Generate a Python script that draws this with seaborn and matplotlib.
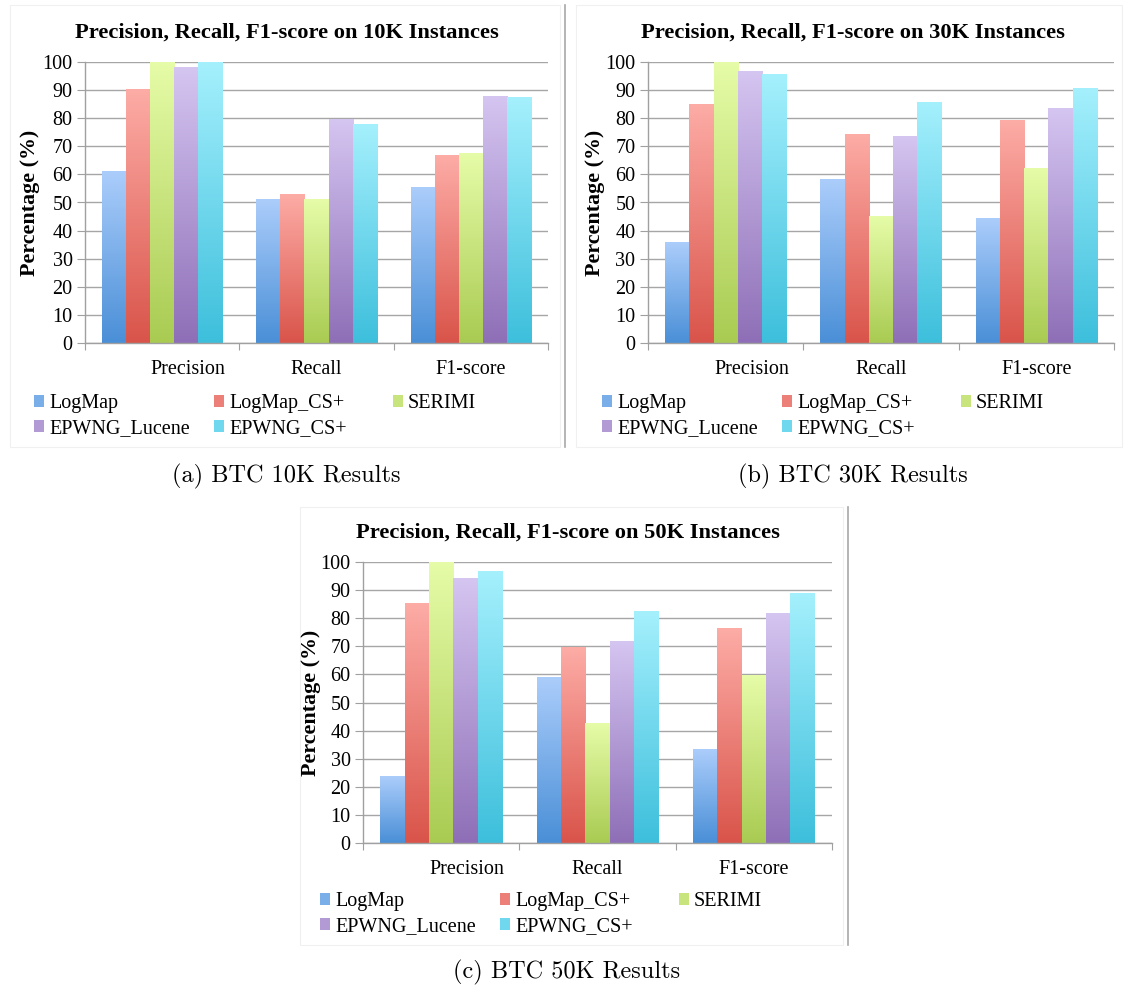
import numpy as np
import pandas as pd
import matplotlib
matplotlib.use('Agg')
import matplotlib.pyplot as plt
import seaborn as sns
from matplotlib.colors import LinearSegmentedColormap
from matplotlib.patches import Patch, Rectangle
from matplotlib.lines import Line2D
from matplotlib.transforms import ScaledTranslation

# ============================================================
# DATA
# ============================================================
metrics = ['Precision', 'Recall', 'F1-score']
methods = ['LogMap', 'LogMap_CS+', 'SERIMI', 'EPWNG_Lucene', 'EPWNG_CS+']

# 10K instances: one list per method -> [Precision, Recall, F1-score]
logmap_10k = [61.2, 50.9, 55.5]
logmap_cs_10k = [90.2, 53.0, 66.9]
serimi_10k = [100.0, 51.1, 67.6]
epwng_lucene_10k = [98.1, 79.6, 87.8]
epwng_cs_10k = [99.9, 77.9, 87.5]

# 30K instances
logmap_30k = [35.9, 58.2, 44.4]
logmap_cs_30k = [84.8, 74.1, 79.1]
serimi_30k = [100.0, 45.1, 62.1]
epwng_lucene_30k = [96.5, 73.4, 83.4]
epwng_cs_30k = [95.7, 85.5, 90.4]

# 50K instances
logmap_50k = [23.5, 58.9, 33.4]
logmap_cs_50k = [85.1, 69.5, 76.3]
serimi_50k = [100.0, 42.6, 59.6]
epwng_lucene_50k = [94.3, 71.7, 81.6]
epwng_cs_50k = [96.5, 82.3, 88.7]

titles = ['Precision, Recall, F1-score on 10K Instances',
          'Precision, Recall, F1-score on 30K Instances',
          'Precision, Recall, F1-score on 50K Instances']
captions = ['(a) BTC 10K Results', '(b) BTC 30K Results', '(c) BTC 50K Results']
y_ticks = list(range(0, 101, 10))

# gradient colours per method: (top, bottom)
grad_colors = [('#abcdfb', '#4a8fd7'),
               ('#fdaca6', '#d9544a'),
               ('#e6fca8', '#a9cb52'),
               ('#d5c5f1', '#8e6fb7'),
               ('#a5f0fd', '#3dbfdc')]
mid_colors = ['#7aaee9', '#ec8078', '#c8e47d', '#b29ad4', '#70d8ee']


def to_long(series):
    rows = []
    for method, vals in zip(methods, series):
        for metric, v in zip(metrics, vals):
            rows.append({'metric': metric, 'method': method, 'value': v})
    return pd.DataFrame(rows)


frames = [to_long([logmap_10k, logmap_cs_10k, serimi_10k, epwng_lucene_10k, epwng_cs_10k]),
          to_long([logmap_30k, logmap_cs_30k, serimi_30k, epwng_lucene_30k, epwng_cs_30k]),
          to_long([logmap_50k, logmap_cs_50k, serimi_50k, epwng_lucene_50k, epwng_cs_50k])]

# ============================================================
# LAYOUT (pixel boxes of the 1125x989 figure)
# ============================================================
W, H = 1125, 989
plt.rcParams['font.family'] = ['Liberation Serif', 'DejaVu Serif']


def fx(x):
    return x / W


def fy(y):
    return 1 - y / H


# axes boxes: left, right, top, bottom in pixels
boxes = [(85, 548, 62, 343), (648, 1114, 62, 343), (363, 832, 562, 843)]
title_pos = [(287, 33), (853, 33), (568, 533)]
ylabel_x = [30, 595, 311]
legend_pos = [(34, 394), (602, 394), (320, 892)]
legend_cols = [[0, 3], [1, 4], [2]]   # Excel fills the legend row by row
legend_col_dx = [0, 180, 359]         # equal-width legend columns
caption_pos = [(286, 476), (853, 476), (567, 972)]

fig = plt.figure(figsize=(W / 100, H / 100), dpi=100)
handles = [Patch(facecolor=c, edgecolor='none') for c in mid_colors]

for i, df in enumerate(frames):
    l, r, t, b = boxes[i]
    ax = fig.add_axes([fx(l), fy(b), fx(r) - fx(l), fy(t) - fy(b)])
    sns.barplot(data=df, x='metric', y='value', hue='method', order=metrics,
                hue_order=methods, palette=mid_colors, saturation=1,
                width=0.78, ax=ax, legend=False, zorder=2)

    # gradient fill for each bar
    grad = np.linspace(0, 1, 256).reshape(-1, 1)
    for container, (top, bottom) in zip(ax.containers, grad_colors):
        cmap = LinearSegmentedColormap.from_list('g', [bottom, top])
        for bar in container:
            x0, y0 = bar.get_x(), bar.get_y()
            w, h = bar.get_width(), bar.get_height()
            ax.imshow(grad, extent=[x0, x0 + w, y0, y0 + h], origin='lower',
                      cmap=cmap, aspect='auto', zorder=2, interpolation='bilinear')
            bar.set_facecolor('none')
            bar.set_edgecolor('none')

    ax.set_xlim(-0.5, 2.5)
    ax.set_ylim(0, 100)
    ax.set_yticks(y_ticks)
    ax.set_yticklabels([str(v) for v in y_ticks], fontsize=14.5)
    ax.set_xticks([-0.5, 0.5, 1.5, 2.5])
    ax.set_xticklabels([])
    ax.set_xticks([0, 1, 2], minor=True)
    ax.set_xticklabels(metrics, minor=True, fontsize=14.5)
    ax.tick_params(axis='x', which='minor', length=0, pad=12)
    ax.tick_params(axis='x', which='major', length=5, color='#a0a0a0')
    ax.tick_params(axis='y', length=6, color='#a0a0a0', pad=3)
    # the first category label sits a little right of its group
    lbl = ax.xaxis.get_minor_ticks()[0].label1
    lbl.set_transform(lbl.get_transform() + ScaledTranslation(0.26, 0, fig.dpi_scale_trans))
    ax.set_xlabel('')
    ax.set_ylabel('')
    ax.grid(axis='y', color='#a6a6a6', linewidth=1.0, zorder=0)
    ax.set_axisbelow(True)
    for s in ['top', 'right']:
        ax.spines[s].set_visible(False)
    for s in ['left', 'bottom']:
        ax.spines[s].set_color('#a0a0a0')
        ax.spines[s].set_linewidth(1.0)
    ax.set_facecolor('none')

    fig.text(fx(title_pos[i][0]), fy(title_pos[i][1]), titles[i], ha='center',
             va='center', fontsize=16.2, fontweight='bold')
    fig.text(fx(ylabel_x[i]), fy((t + b) / 2), 'Percentage (%)', rotation=90,
             ha='center', va='center', fontsize=15.8, fontweight='bold')

    for col, dx in zip(legend_cols, legend_col_dx):
        fig.legend([handles[k] for k in col], [methods[k] for k in col],
                   loc='upper left',
                   bbox_to_anchor=(fx(legend_pos[i][0] + dx), fy(legend_pos[i][1])),
                   ncol=1, frameon=False, fontsize=14.5, handlelength=0.5,
                   handleheight=0.5, handletextpad=0.25, labelspacing=0.3,
                   borderpad=0, borderaxespad=0)

    fig.text(fx(caption_pos[i][0]), fy(caption_pos[i][1]), captions[i],
             ha='center', va='center', fontsize=17.5, family='cmr10')

# faint chart frames and separators
for (x0, y0, x1, y1) in [(10, 5, 560, 447), (576, 5, 1122, 447), (300, 507, 843, 945)]:
    fig.add_artist(Rectangle((fx(x0), fy(y1)), fx(x1) - fx(x0), fy(y0) - fy(y1),
                             transform=fig.transFigure, fill=False,
                             edgecolor='#f0f0f0', linewidth=0.8))
fig.add_artist(Line2D([fx(565), fx(565)], [fy(5), fy(447)], transform=fig.transFigure,
                      color='#a8a8a8', linewidth=1.2))
fig.add_artist(Line2D([fx(848), fx(848)], [fy(507), fy(945)], transform=fig.transFigure,
                      color='#a8a8a8', linewidth=1.2))

fig.savefig('out.png', dpi=100)
plt.close(fig)
